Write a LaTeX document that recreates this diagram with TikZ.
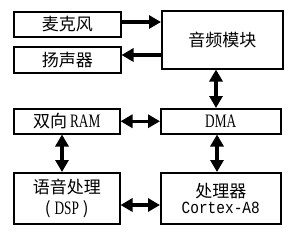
\documentclass[tikz,border=0pt]{standalone}
\usepackage{fontspec}
\setmainfont{Liberation Serif}[FakeStretch=0.7]
\setmonofont{Liberation Mono}[FakeStretch=0.85]
\newfontfamily\cjk{Noto Sans CJK SC}
\newcommand\lat{\fontsize{19}{20}\selectfont}
\usetikzlibrary{arrows.meta}
\begin{document}
\begin{tikzpicture}[x=1pt,y=-1pt,
  box/.style={draw=black,line width=1.5pt,inner sep=0pt,anchor=north west,align=center,font=\fontsize{17}{20}\selectfont},
  conn/.style={line width=3.5pt,-{Triangle[length=12pt,width=13pt]}},
  bconn/.style={line width=3.5pt,{Triangle[length=12pt,width=13pt]}-{Triangle[length=12pt,width=13pt]}}]
\useasboundingbox (0,0) rectangle (291,234);
\node[box,minimum width=107pt,minimum height=25pt] (mic) at (13,11) {\cjk 麦克风};
\node[box,minimum width=107pt,minimum height=26pt] (spk) at (13,46) {\cjk 扬声器};
\node[box,minimum width=121pt,minimum height=58pt] (audio) at (161,10) {\cjk 音频模块};
\node[box,minimum width=106pt,minimum height=25pt] (ram) at (13,108) {{\cjk 双向} {\lat RAM}};
\node[box,minimum width=120pt,minimum height=25pt] (dma) at (160,108) {\lat DMA};
\node[box,minimum width=106pt,minimum height=51pt] (dsp) at (13,172) {{\cjk 语音处理}\\[1pt]{\cjk (}\hspace{4pt}{\lat DSP}\hspace{4pt}{\cjk )}};
\node[box,minimum width=120pt,minimum height=51pt,font=\fontsize{17}{16}\selectfont] (cpu) at (160,172) {{\cjk 处理器}\\{\fontsize{17}{16}\selectfont\texttt{Cortex-A8}}};
\coordinate (m1) at (mic.east |- 0,22);
\coordinate (a1) at (audio.west |- 0,22);
\draw[conn] (m1) -- (a1);
\coordinate (a2) at (audio.west |- 0,55);
\coordinate (s2) at (spk.east |- 0,55);
\draw[conn] (a2) -- (s2);
\coordinate (a3) at (216,0);
\draw[bconn] (audio.south -| a3) -- (dma.north -| a3);
\draw[bconn] (ram.east) -- (dma.west);
\coordinate (r4) at (62,0);
\draw[bconn] (ram.south -| r4) -- (dsp.north -| r4);
\coordinate (d5) at (217,0);
\draw[bconn] (dma.south -| d5) -- (cpu.north -| d5);
\coordinate (y6) at (0,205);
\draw[bconn] (dsp.east |- y6) -- (cpu.west |- y6);
\end{tikzpicture}
\end{document}
